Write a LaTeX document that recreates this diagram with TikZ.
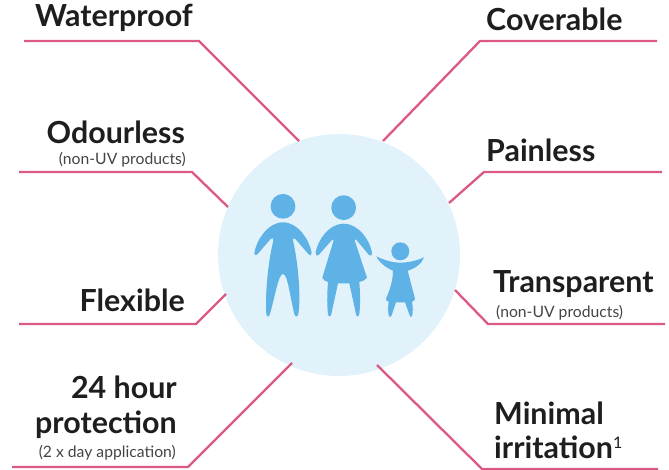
\documentclass[tikz,border=0pt]{standalone}
\usepackage{fontspec}
\setmainfont{Lato}
\usepackage{tikz}
\definecolor{leadpink}{HTML}{DB5A84}
\definecolor{discblue}{HTML}{E1F2FB}
\definecolor{figblue}{HTML}{5FB2E5}
\definecolor{labelblack}{HTML}{1E1E1E}
\definecolor{notegrey}{HTML}{444444}
\tikzset{
lead/.style={draw=leadpink,line width=2.3pt},
big/.style={inner sep=0pt,text=labelblack,font=\fontsize{30.4}{32}\selectfont\bfseries},
note/.style={inner sep=0pt,text=notegrey,font=\fontsize{15.7}{17}\selectfont},
}
\begin{document}
\begin{tikzpicture}[x=1pt,y=-1pt]
\useasboundingbox (0,0) rectangle (669,470);
\node (disc) at (339,255) [circle,minimum size=242pt,inner sep=0pt,fill=discblue] {};
\node (waterproof) at (193,27) [big,anchor=base east] {Waterproof};
\node (coverable) at (486,31) [big,anchor=base west] {Coverable};
\node (odourless) at (185,144) [big,anchor=base east] {Odourless};
\node (odourlessnote) at (186,165) [note,anchor=base east] {(non-UV products)};
\node (painless) at (486,162) [big,anchor=base west] {Painless};
\node (flexible) at (185,312) [big,anchor=base east] {Flexible};
\node (transparent) at (493,292) [big,anchor=base west] {Transparent};
\node (transparentnote) at (496,317) [note,anchor=base west] {(non-UV products)};
\node (hour) at (177,398) [big,anchor=base east] {24 hour};
\node (protection) at (177,433) [big,anchor=base east] {protection};
\node (protectionnote) at (176,457) [note,anchor=base east] {(2 x day application)};
\node (minimal) at (494,424) [big,anchor=base west] {Minimal};
\node (irritation) at (494,458) [big,anchor=base west] {irritation\raisebox{10pt}{\fontsize{16}{16}\selectfont\mdseries 1}};
\coordinate (wa) at (24,41);
\coordinate (wb) at (199,41);
\coordinate (wc) at (299,141);
\coordinate (ca) at (657,41);
\coordinate (cb) at (480,41);
\coordinate (cc) at (383,141);
\coordinate (oa) at (19,172);
\coordinate (ob) at (192,172);
\coordinate (oc) at (228,207);
\coordinate (pa) at (662,172);
\coordinate (pb) at (484,172);
\coordinate (pc) at (449,203);
\coordinate (fa) at (19,324);
\coordinate (fb) at (196,324);
\coordinate (fc) at (226,294);
\coordinate (ta) at (665,324);
\coordinate (tb) at (488,324);
\coordinate (tc) at (455,290);
\coordinate (ha) at (12,467);
\coordinate (hb) at (188,467);
\coordinate (hc) at (292,363);
\coordinate (ma) at (658,469);
\coordinate (mb) at (482,469);
\coordinate (mc) at (377,365);
\draw[lead] (wa) -- (wb) -- (wc);
\draw[lead] (ca) -- (cb) -- (cc);
\draw[lead] (oa) -- (ob) -- (oc);
\draw[lead] (pa) -- (pb) -- (pc);
\draw[lead] (fa) -- (fb) -- (fc);
\draw[lead] (ta) -- (tb) -- (tc);
\draw[lead] (ha) -- (hb) -- (hc);
\draw[lead] (ma) -- (mb) -- (mc);
\begin{scope}[shift={(215,130)},x=0.3333pt,y=-0.3333pt,fill=figblue]
\fill (204,229) circle [radius=12.4pt];
\fill (386,233) circle [radius=12.4pt];
\fill (556,364) circle [radius=9pt];
\fill (204,277) .. controls (250,277) and (283,330) .. (290,368) .. controls (291,376) and (286,379) .. (281,373)
 -- (241,327) .. controls (236,322) and (232,324) .. (234,332) .. controls (250,400) and (258,500) .. (250,552)
 .. controls (248,562) and (241,562) .. (238,552) .. controls (225,500) and (218,432) .. (204,432)
 .. controls (190,432) and (180,500) .. (165,552) .. controls (162,562) and (155,562) .. (154,552)
 .. controls (150,500) and (158,400) .. (175,332) .. controls (176,324) and (172,322) .. (167,327)
 -- (127,373) .. controls (122,379) and (117,376) .. (118,368) .. controls (125,330) and (158,277) .. (204,277) -- cycle;
\fill (386,281) .. controls (430,281) and (465,330) .. (471,368) .. controls (472,376) and (467,381) .. (462,375)
 -- (426,332) .. controls (421,326) and (418,326) .. (420,334) -- (456,443) .. controls (452,450) and (442,455) .. (433,456)
 .. controls (436,490) and (436,530) .. (433,552) .. controls (431,562) and (425,562) .. (423,552) -- (403,460)
 -- (369,460) -- (349,552) .. controls (347,562) and (341,562) .. (339,552) .. controls (336,530) and (336,490) .. (339,456)
 .. controls (330,455) and (326,450) .. (322,443) -- (355,334) .. controls (357,326) and (354,326) .. (349,332)
 -- (311,375) .. controls (306,381) and (301,376) .. (302,368) .. controls (308,330) and (342,281) .. (386,281) -- cycle;
\fill (484,379) .. controls (510,392) and (535,398) .. (556,398) .. controls (580,398) and (605,392) .. (627,382)
 .. controls (622,400) and (600,416) .. (578,422) -- (600,506) .. controls (600,512) and (596,514) .. (591,515)
 .. controls (594,530) and (594,545) .. (592,556) .. controls (590,563) and (586,563) .. (584,556) -- (570,517)
 -- (543,517) -- (530,556) .. controls (528,563) and (523,563) .. (521,556) .. controls (519,545) and (519,530) .. (521,515)
 .. controls (516,514) and (512,512) .. (513,506) .. controls (525,480) and (534,450) .. (534,422)
 .. controls (515,415) and (490,395) .. (484,379) -- cycle;
\end{scope}
\end{tikzpicture}
\end{document}
